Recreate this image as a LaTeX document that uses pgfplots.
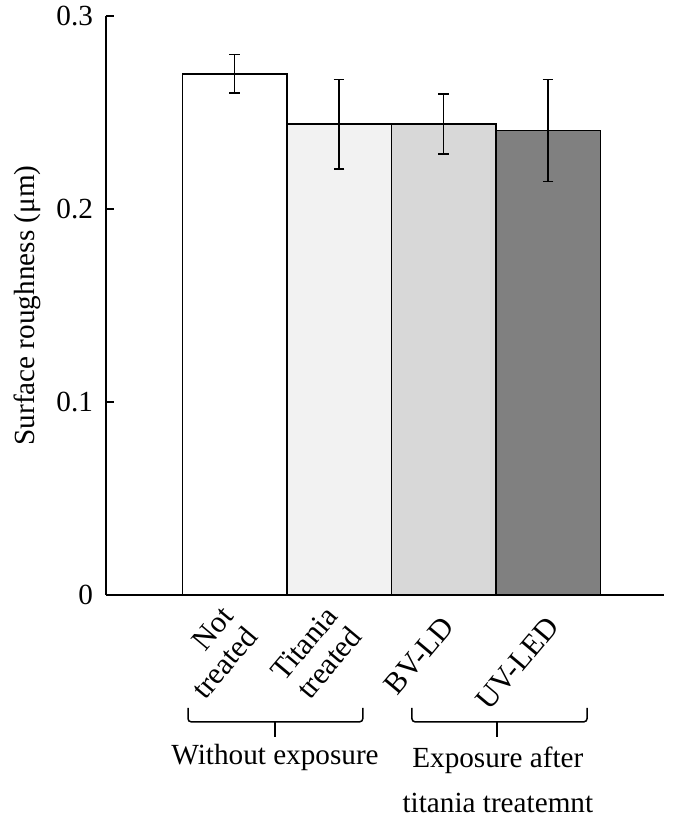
\documentclass[border=0pt]{standalone}
\usepackage{fontspec}
\setmainfont{Liberation Serif}
\usepackage{pgfplots}
\pgfplotsset{compat=1.18}
\definecolor{barA}{HTML}{FFFFFF}
\definecolor{barB}{HTML}{F2F2F2}
\definecolor{barC}{HTML}{D8D8D8}
\definecolor{barD}{HTML}{808080}
\begin{document}
\begin{tikzpicture}
\path[use as bounding box] (-53pt,-113.5pt) rectangle (291pt,297.5pt);
\begin{axis}[
  at={(0,0)}, anchor=south west,
  width=279pt, height=289.5pt, scale only axis,
  xmin=-1.23, xmax=4.11, ymin=0, ymax=0.3,
  axis lines*=left,
  axis line style={line width=0.75pt},
  clip=false,
  font=\fontsize{14.6}{17}\selectfont,
  ytick={0,0.1,0.2,0.3},
  yticklabels={0,0.1,0.2,0.3},
  yticklabel style={xshift=-3pt},
  tick align=inside,
  major tick length=4pt,
  y tick style={line width=0.75pt, black},
  xtick={0,1,2,3},
  xticklabels={{Not\\treated},{Titania\\treated},{BV-LD},{UV-LED}},
  x tick style={draw=none},
  xticklabel style={xshift=4.6pt, yshift=-10.3pt, rotate=50, anchor=east, align=right, font=\fontsize{15.2}{15.8}\selectfont},
  ylabel={Surface roughness (μm)},
  ylabel style={at={(axis description cs:-0.1416,0.5)}, anchor=center},
  error bars/error bar style={line width=0.75pt, black},
  error bars/error mark options={rotate=90, mark size=2.7pt, line width=0.75pt, black},
]
\addplot[ybar, bar width=1, bar shift=0pt, fill=barA, draw=black, line width=0.75pt,
  error bars/.cd, y dir=both, y explicit]
  coordinates {(0,0.270) +- (0,0.0100)};
\addplot[ybar, bar width=1, bar shift=0pt, fill=barB, draw=black, line width=0.75pt,
  error bars/.cd, y dir=both, y explicit]
  coordinates {(1,0.244) +- (0,0.0232)};
\addplot[ybar, bar width=1, bar shift=0pt, fill=barC, draw=black, line width=0.75pt,
  error bars/.cd, y dir=both, y explicit]
  coordinates {(2,0.244) +- (0,0.0155)};
\addplot[ybar, bar width=1, bar shift=0pt, fill=barD, draw=black, line width=0.75pt,
  error bars/.cd, y dir=both, y explicit]
  coordinates {(3,0.2406) +- (0,0.0264)};
\draw[line width=0.75pt, rounded corners=1.5pt] (axis cs:-0.445,-0.0585) -- (axis cs:-0.445,-0.0657) -- (axis cs:1.227,-0.0657) -- (axis cs:1.227,-0.0585);
\draw[line width=0.75pt] (axis cs:0.388,-0.0657) -- (axis cs:0.388,-0.0735);
\draw[line width=0.75pt, rounded corners=1.5pt] (axis cs:1.698,-0.0585) -- (axis cs:1.698,-0.0657) -- (axis cs:3.373,-0.0657) -- (axis cs:3.373,-0.0585);
\draw[line width=0.75pt] (axis cs:2.512,-0.0657) -- (axis cs:2.512,-0.0735);
\node[font=\fontsize{14.6}{17}\selectfont, anchor=center] at (axis cs:0.388,-0.0843) {Without exposure};
\node[font=\fontsize{14.6}{22.5}\selectfont, align=center, anchor=center] at (axis cs:2.52,-0.096) {Exposure after\\titania treatemnt};
\end{axis}
\end{tikzpicture}
\end{document}
